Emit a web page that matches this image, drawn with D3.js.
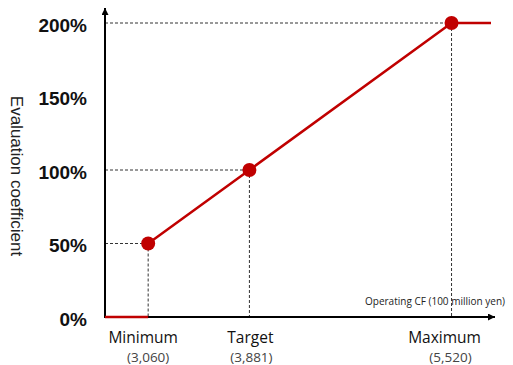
<!DOCTYPE html>
<html>
<head>
<meta charset="utf-8">
<script src="https://cdn.jsdelivr.net/npm/d3@7"></script>
<style>
  html, body { margin: 0; padding: 0; background: #fff; }
  svg { display: block; }
</style>
</head>
<body>
<svg id="chart" width="513" height="365"></svg>
<script>
// Evaluation coefficient vs. operating cash flow (100 million yen)
const pointNames = ["Minimum", "Target", "Maximum"];
const pointValues = [3060, 3881, 5520];
const pointLabels = ["(3,060)", "(3,881)", "(5,520)"];
const coefficients = [50, 100, 200];
const yTicks = [0, 50, 100, 150, 200];
const yTickLabels = ["0%", "50%", "100%", "150%", "200%"];
const xDomain = [2710, 5840];

const svg = d3.select("#chart");
const red = "#c00000";

const x = d3.scaleLinear().domain(xDomain).range([105, 491]);
const y = d3.scaleLinear().domain([0, 200]).range([317, 23]);

// arrow head marker
const defs = svg.append("defs");
defs.append("marker")
  .attr("id", "arrow")
  .attr("viewBox", "0 0 10 10")
  .attr("refX", 10).attr("refY", 5)
  .attr("markerWidth", 7).attr("markerHeight", 7)
  .attr("markerUnits", "userSpaceOnUse")
  .attr("orient", "auto")
  .append("path").attr("d", "M0,0 L10,5 L0,10 Z").attr("fill", "#000");

// dashed guides
const guides = svg.append("g").attr("stroke", "#333").attr("stroke-width", 1)
  .attr("stroke-dasharray", "3,2").attr("fill", "none");
pointValues.forEach((v, i) => {
  guides.append("line")
    .attr("x1", x(xDomain[0])).attr("x2", x(v))
    .attr("y1", y(coefficients[i])).attr("y2", y(coefficients[i]));
  guides.append("line")
    .attr("x1", x(v)).attr("x2", x(v))
    .attr("y1", y(coefficients[i])).attr("y2", y(0));
});

// axes
svg.append("line")
  .attr("x1", x(xDomain[0])).attr("x2", x(xDomain[0]))
  .attr("y1", y(0) + 1).attr("y2", 8)
  .attr("stroke", "#000").attr("stroke-width", 2)
  .attr("marker-end", "url(#arrow)");
svg.append("line")
  .attr("x1", x(xDomain[0]) - 1).attr("x2", 495)
  .attr("y1", y(0)).attr("y2", y(0))
  .attr("stroke", "#000").attr("stroke-width", 2)
  .attr("marker-end", "url(#arrow)");

// y tick labels
const yAxis = d3.axisLeft(y).tickValues(yTicks)
  .tickFormat((d, i) => yTickLabels[i]).tickSize(0).tickPadding(0);
const yg = svg.append("g").attr("transform", "translate(87,2)").call(yAxis);
yg.select(".domain").remove();
yg.selectAll("text")
  .attr("font-family", "Liberation Sans, Arial, sans-serif")
  .attr("font-size", 19).attr("font-weight", "bold").attr("fill", "#111");

// evaluation line: zero until minimum, linear up to maximum, flat after
const lineData = [[xDomain[0], 0], [pointValues[0], 0]];
const rising = pointValues.map((v, i) => [v, coefficients[i]]);
rising.push([xDomain[1], coefficients[coefficients.length - 1]]);
const line = d3.line().x(d => x(d[0])).y(d => y(d[1]));
svg.append("path").datum(lineData).attr("d", line)
  .attr("stroke", red).attr("stroke-width", 2.5).attr("fill", "none");
svg.append("path").datum(rising).attr("d", line)
  .attr("stroke", red).attr("stroke-width", 2.5).attr("fill", "none");

svg.selectAll("circle.pt").data(pointValues).join("circle")
  .attr("class", "pt")
  .attr("cx", d => x(d)).attr("cy", (d, i) => y(coefficients[i]))
  .attr("r", 7).attr("fill", red);

// x labels
const labelFont = "Open Sans, Noto Sans, sans-serif";
const dx = [-5, 1, -7];
svg.selectAll("text.name").data(pointNames).join("text")
  .attr("class", "name")
  .attr("x", (d, i) => x(pointValues[i]) + dx[i]).attr("y", 343)
  .attr("text-anchor", "middle")
  .attr("font-family", labelFont).attr("font-size", 15.5)
  .attr("fill", "#111").text(d => d);
svg.selectAll("text.val").data(pointLabels).join("text")
  .attr("class", "val")
  .attr("x", (d, i) => x(pointValues[i]) + [0, 2, -1][i]).attr("y", 362)
  .attr("text-anchor", "middle")
  .attr("font-family", labelFont).attr("font-size", 13.5)
  .attr("fill", "#444").text(d => d);

// axis titles
svg.append("text")
  .attr("x", 505).attr("y", 305).attr("text-anchor", "end")
  .attr("font-family", labelFont).attr("font-size", 10)
  .attr("fill", "#222").text("Operating CF (100 million yen)");
svg.append("text")
  .attr("transform", "translate(11,176) rotate(90)")
  .attr("text-anchor", "middle")
  .attr("font-family", "Liberation Sans, Arial, sans-serif").attr("font-size", 17)
  .attr("fill", "#222").text("Evaluation coefficient");
</script>
</body>
</html>
